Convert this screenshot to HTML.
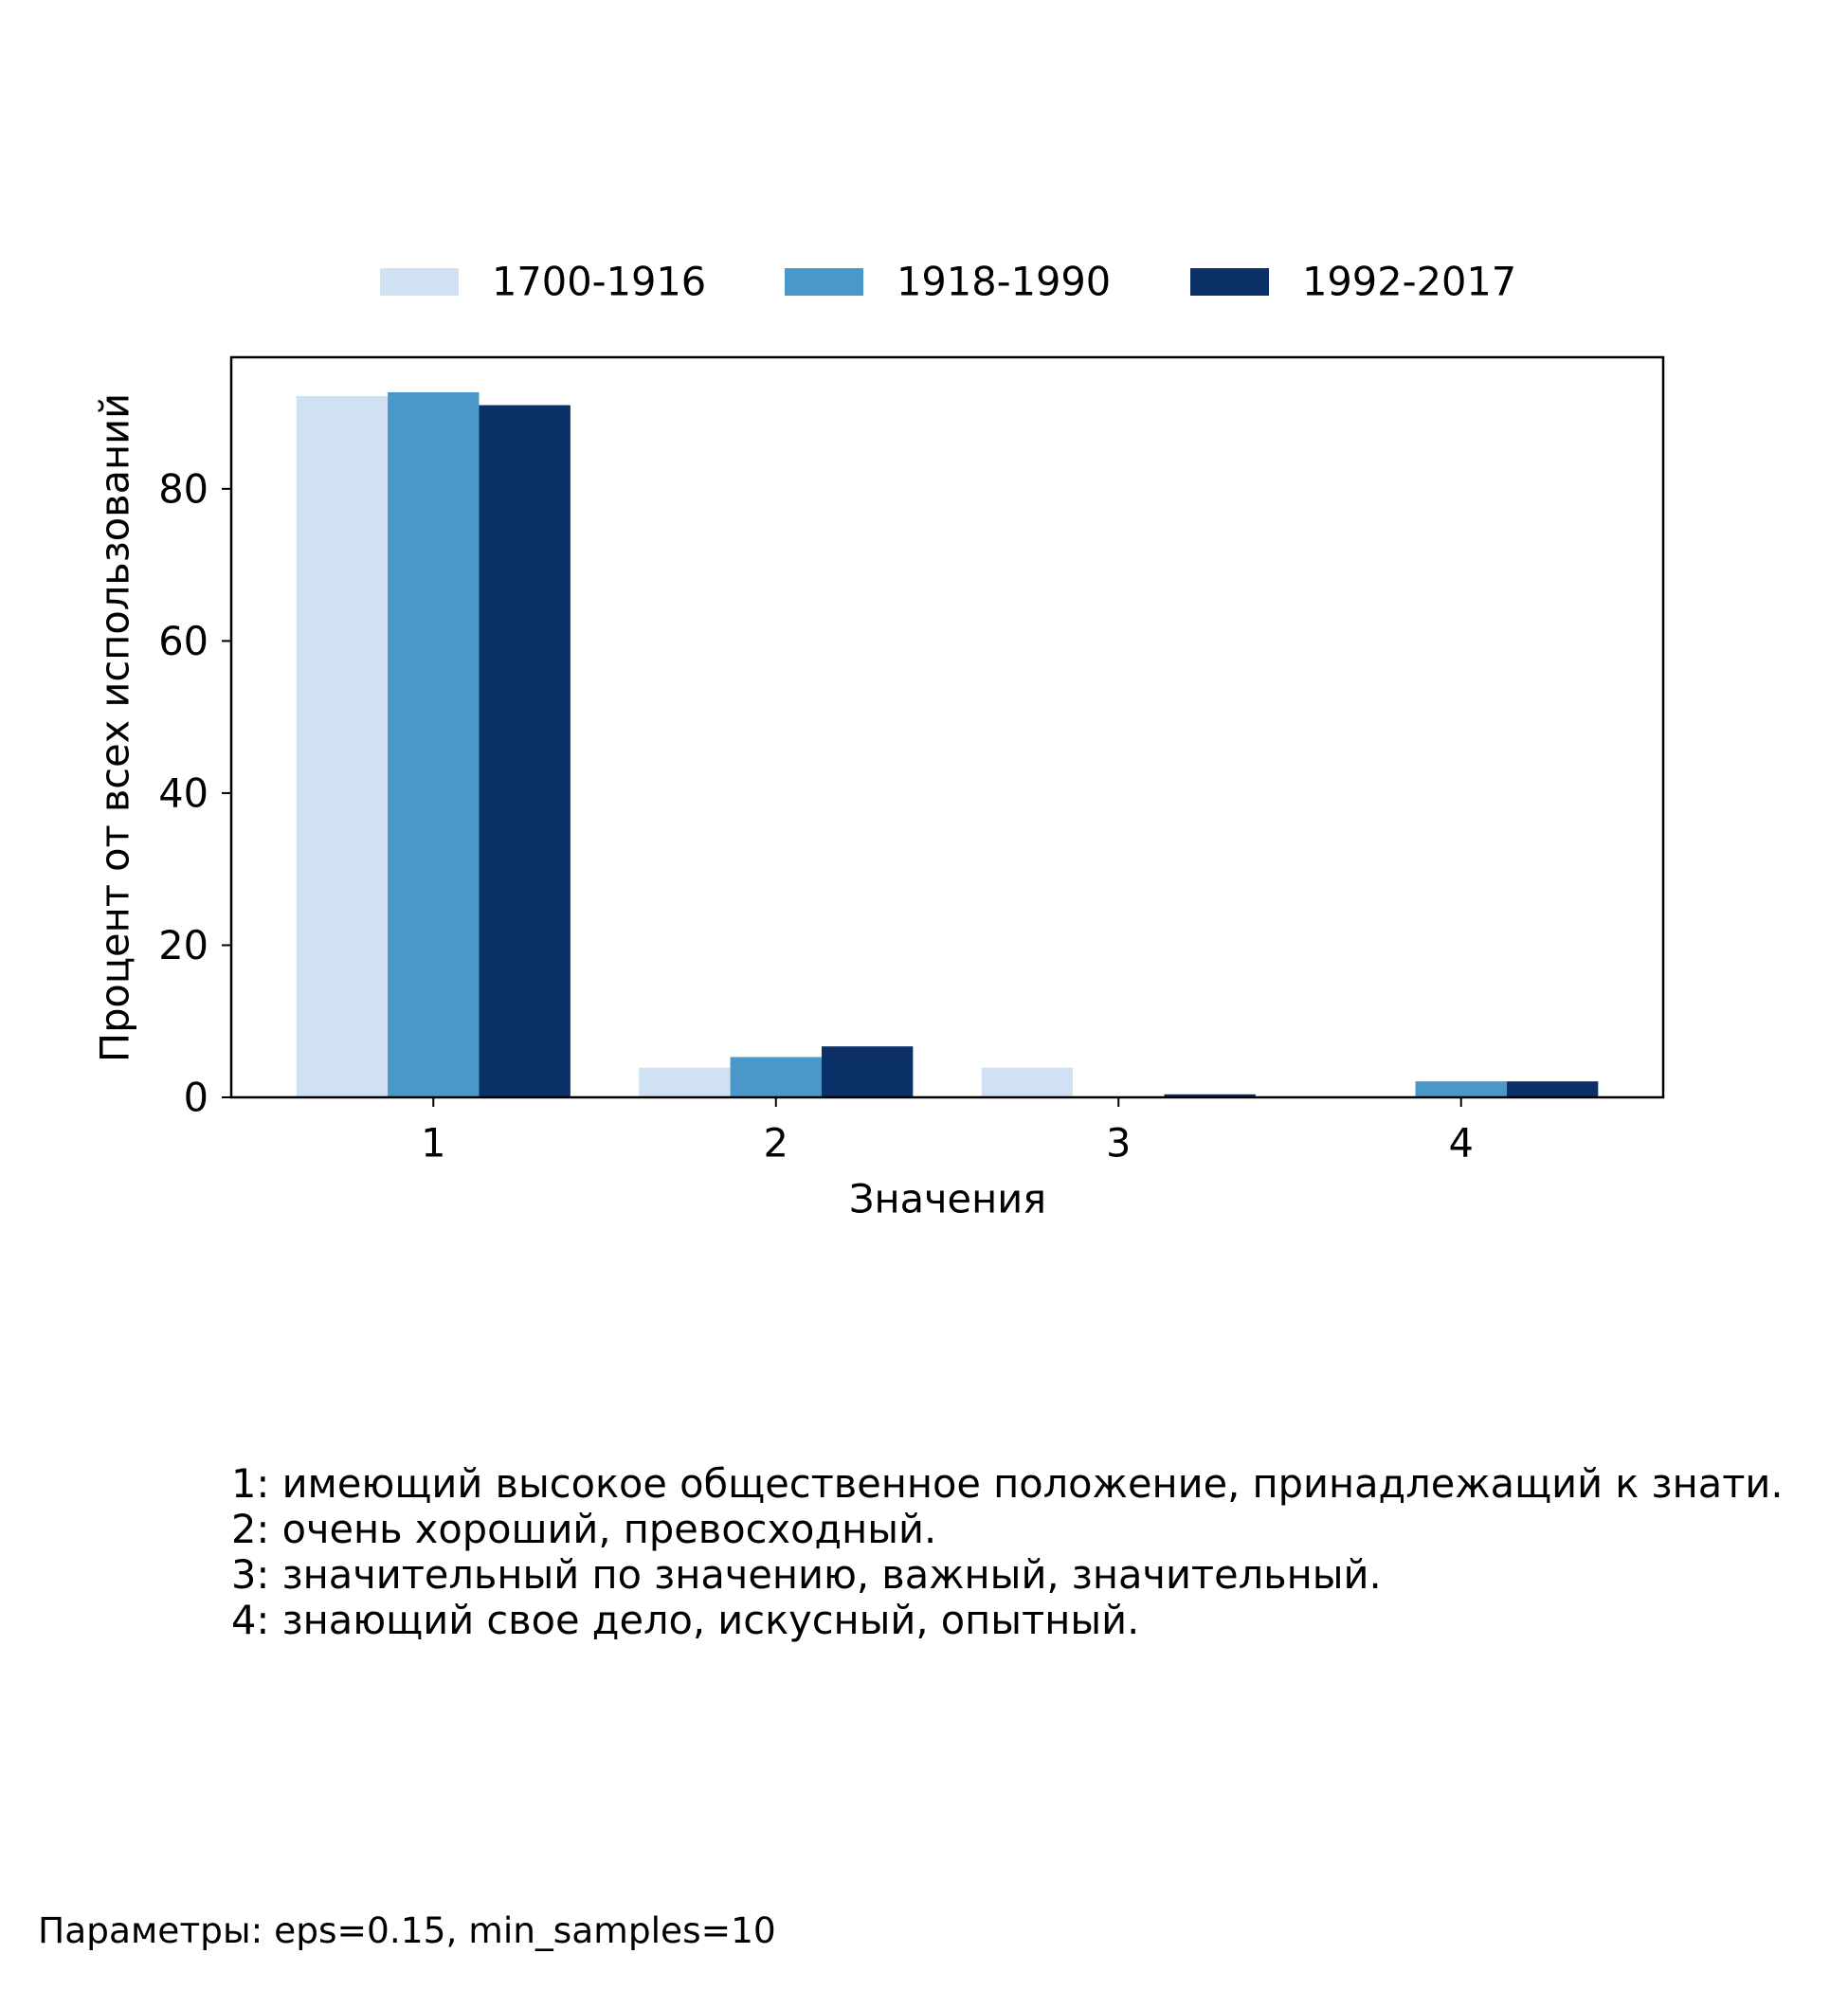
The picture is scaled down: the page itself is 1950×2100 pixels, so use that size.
<!DOCTYPE html>
<html><head><meta charset="utf-8"><style>
html,body{margin:0;padding:0;background:#fff}
svg{display:block;font-family:"DejaVu Sans","Liberation Sans",sans-serif}
</style></head><body>
<svg id="chart" width="1950" height="2100" viewBox="0 0 1950 2100" xmlns="http://www.w3.org/2000/svg">
<g id="legend"></g>
<g id="bars"></g>
<g id="axes"></g>
<text x="121" y="768" font-size="41.5" text-anchor="middle" dominant-baseline="central" transform="rotate(-90 121 768)">Процент от всех использований</text>
<text x="1000" y="1265" font-size="41.5" text-anchor="middle" dominant-baseline="central">Значения</text>
<g font-size="41.5">
<text x="244" y="1580">1: имеющий высокое общественное положение, принадлежащий к знати.</text>
<text x="244" y="1628">2: очень хороший, превосходный.</text>
<text x="244" y="1676">3: значительный по значению, важный, значительный.</text>
<text x="244" y="1724">4: знающий свое дело, искусный, опытный.</text>
</g>
<text x="40" y="2050" font-size="37.5">Параметры: eps=0.15, min_samples=10</text>
</svg>
<script>
const categories = ["1","2","3","4"];
const seriesNames = ["1700-1916","1918-1990","1992-2017"];
const s1700 = [92.2, 3.9, 3.9, 0];
const s1918 = [92.7, 5.3, 0, 2.1];
const s1992 = [91.0, 6.7, 0.4, 2.1];
const yTicks = [0,20,40,60,80];

const NS="http://www.w3.org/2000/svg";
const colors=["#cfe1f2","#4a98c9","#0b3068"];
const series=[s1700,s1918,s1992];
const L=244,R=1755,T=377,B=1158, xmin=0.41,xmax=4.59, ymax=97.3;
const xs=v=>L+(v-xmin)/(xmax-xmin)*(R-L);
const ys=v=>B-v/ymax*(B-T);
function mk(tag,attrs,parent){const e=document.createElementNS(NS,tag);for(const k in attrs)e.setAttribute(k,attrs[k]);parent.appendChild(e);return e;}
const bars=document.getElementById('bars'), axes=document.getElementById('axes'), legend=document.getElementById('legend');
const bw=0.8/3;
series.forEach((s,si)=>{
  s.forEach((v,ci)=>{
    const c=ci+1, x0=c-0.4+si*bw;
    const r=mk('rect',{x:xs(x0),y:ys(v),width:xs(x0+bw)-xs(x0),height:B-ys(v),fill:colors[si]},bars);
    
    
  });
});
const fr=mk('rect',{x:L,y:T,width:R-L,height:B-T,fill:'none',stroke:'#000','stroke-width':2.5},axes);


yTicks.forEach(t=>{
  const y=ys(t);
  mk('line',{x1:L-10,x2:L,y1:y,y2:y,stroke:'#000','stroke-width':2},axes);
  const tx=mk('text',{x:L-24,y:y,'font-size':41.5,'text-anchor':'end','dominant-baseline':'central'},axes);
  tx.textContent=t;
  
  
});
categories.forEach((c,i)=>{
  const x=xs(i+1);
  mk('line',{x1:x,x2:x,y1:B,y2:B+10,stroke:'#000','stroke-width':2},axes);
  const tx=mk('text',{x:x,y:1206,'font-size':41.5,'text-anchor':'middle','dominant-baseline':'central'},axes);
  tx.textContent=c;
  
  
});
const lx=[401,828,1256];
seriesNames.forEach((n,i)=>{
  const r=mk('rect',{x:lx[i],y:283,width:83,height:29,fill:colors[i]},legend);
  
  
  const t=mk('text',{x:lx[i]+118,y:297,'font-size':41.5,'dominant-baseline':'central'},legend);
  t.textContent=n;
  
  
});
</script>
</body></html>
